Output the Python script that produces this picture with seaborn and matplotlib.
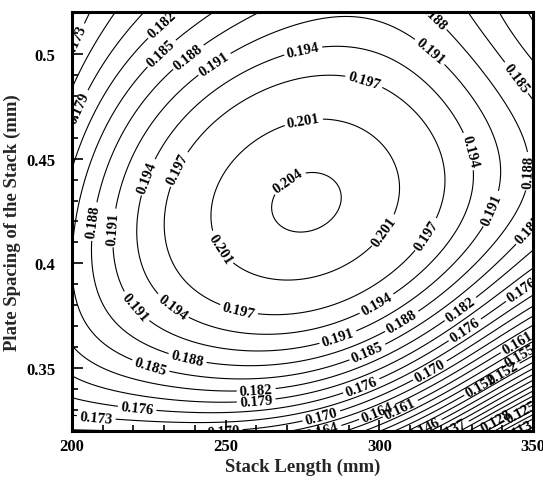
import numpy as np
import matplotlib
matplotlib.use("Agg")
import matplotlib.pyplot as plt
import seaborn as sns

# Response surface sampled on a coarse design grid
stack_length = np.array([200.0, 225.0, 250.0, 275.0, 300.0, 325.0, 350.0])   # mm
plate_spacing = np.array([0.32, 0.36, 0.40, 0.44, 0.48, 0.52])              # mm
response = np.array([
    [0.1695, 0.1705, 0.1690, 0.1665, 0.1560, 0.1355, 0.1065],   # 0.32
    [0.1825, 0.1890, 0.1912, 0.1895, 0.1845, 0.1715, 0.1570],   # 0.36
    [0.1835, 0.1940, 0.2015, 0.2030, 0.1993, 0.1915, 0.1795],   # 0.40
    [0.1835, 0.1938, 0.2020, 0.2046, 0.2024, 0.1950, 0.1868],   # 0.44
    [0.1775, 0.1875, 0.1937, 0.1992, 0.1980, 0.1925, 0.1855],   # 0.48
    [0.1700, 0.1800, 0.1867, 0.1898, 0.1890, 0.1870, 0.1780],   # 0.52
])

contour_levels = [0.110, 0.113, 0.116, 0.119, 0.122, 0.125, 0.128, 0.131,
                  0.134, 0.137, 0.140, 0.143, 0.146, 0.149, 0.152, 0.155,
                  0.158, 0.161, 0.164, 0.167, 0.170, 0.173, 0.176, 0.179,
                  0.182, 0.185, 0.188, 0.191, 0.194, 0.197, 0.201, 0.204]

x_ticks = [200, 250, 300, 350]
y_ticks = [0.35, 0.40, 0.45, 0.50]
y_tick_labels = ["0.35", "0.4", "0.45", "0.5"]

# where the inline level labels sit (x in mm, y in mm)
label_spots = [
    (203, 0.505), (203, 0.474), (228, 0.516), (228, 0.502), (237, 0.500), (245, 0.498),
    (316, 0.516), (317, 0.502), (275, 0.503), (295, 0.487), (275, 0.471), (271, 0.438),
    (345, 0.489), (333, 0.455), (348, 0.444), (338, 0.425), (348, 0.417), (303, 0.414),
    (315, 0.414), (225, 0.441), (236, 0.444), (207, 0.420), (213, 0.417), (245, 0.404),
    (219, 0.377), (231, 0.376), (254, 0.376), (299, 0.381), (286, 0.367), (307, 0.373),
    (327, 0.377), (327, 0.370), (346, 0.388), (237, 0.351), (225, 0.348), (296, 0.358),
    (260, 0.338), (260, 0.333), (221, 0.328), (208, 0.328), (247, 0.319), (294, 0.342),
    (316, 0.350), (299, 0.330), (307, 0.330), (281, 0.328), (281, 0.319), (333, 0.342),
    (340, 0.348), (345, 0.362), (346, 0.355), (315, 0.320), (324, 0.319), (338, 0.325),
    (346, 0.330), (345, 0.318),
]


def poly_terms(u, v, degree=5):
    return np.stack([u ** i * v ** j
                     for i in range(degree + 1)
                     for j in range(degree + 1 - i)], axis=-1)


# smooth polynomial response surface fitted to the grid samples
GX, GY = np.meshgrid(stack_length, plate_spacing)
to_u = lambda x: (x - 275.0) / 75.0
to_v = lambda y: (y - 0.42) / 0.10
coef, *_ = np.linalg.lstsq(poly_terms(to_u(GX).ravel(), to_v(GY).ravel()),
                           response.ravel(), rcond=None)

xf = np.linspace(stack_length[0], stack_length[-1], 301)
yf = np.linspace(plate_spacing[0], plate_spacing[-1], 301)
X, Y = np.meshgrid(xf, yf)
Z = poly_terms(to_u(X), to_v(Y)) @ coef

sns.set_theme(style="ticks")
plt.rcParams["font.family"] = ["Liberation Serif", "DejaVu Serif"]
plt.rcParams["font.weight"] = "bold"
plt.rcParams["axes.labelweight"] = "bold"

fig = plt.figure(figsize=(5.43, 4.81), dpi=100)
ax = fig.add_axes([0.1326, 0.1019, 0.849, 0.8711])

cs = ax.contour(X, Y, Z, levels=contour_levels, colors="black", linewidths=0.8)
ax.clabel(cs, fmt="%.3f", fontsize=10.5, inline=True, inline_spacing=3,
          manual=label_spots)

ax.set_xlim(200, 350)
ax.set_ylim(0.32, 0.52)
ax.set_xticks(x_ticks)
ax.set_yticks(y_ticks)
ax.set_yticklabels(y_tick_labels)
ax.set_xticks(np.arange(200, 351, 10), minor=True)
ax.set_yticks(np.arange(0.32, 0.5201, 0.01), minor=True)
ax.tick_params(which="both", direction="in", top=False, right=False,
               labelsize=12, width=1.2, colors="black")
ax.tick_params(which="major", length=8)
ax.tick_params(which="minor", length=4.5)
ax.tick_params(axis="y", pad=12)
ax.tick_params(axis="x", pad=5)
for lab in ax.get_xticklabels() + ax.get_yticklabels():
    lab.set_fontweight("bold")
for sp in ax.spines.values():
    sp.set_linewidth(2.2)
    sp.set_color("black")

ax.set_xlabel("Stack Length (mm)", fontsize=13.5, fontweight="bold", labelpad=3)
ax.set_ylabel("Plate Spacing of the Stack (mm)", fontsize=13.5, fontweight="bold", labelpad=4)

fig.savefig("out.png", dpi=100)
